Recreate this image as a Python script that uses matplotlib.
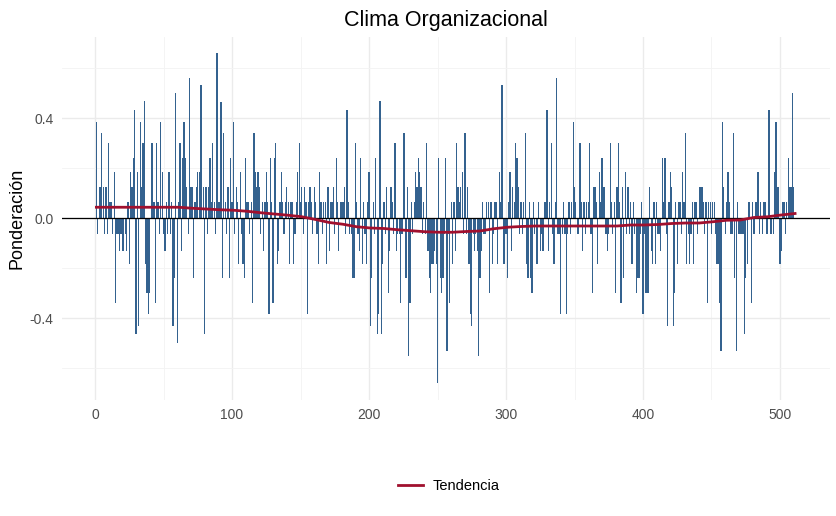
import matplotlib
matplotlib.use("Agg")
import matplotlib.pyplot as plt
import numpy as np

plt.rcParams["font.family"] = ["Liberation Sans", "DejaVu Sans"]

# ponderacion por item (1..510)
ponderacion = [
    0.385, -0.065, 0.125, 0.125, 0.34, 0.125, -0.065, 0.125, -0.065, 0.3,
    0.065, 0.065, -0.065, 0.185, -0.34, -0.065, -0.065, -0.13, -0.065, -0.13,
    -0.13, -0.065, -0.13, 0.065, -0.185, 0.185, 0.125, 0.24, 0.43, -0.465,
    0.185, -0.43, 0.385, 0.125, 0.3, 0.47, -0.185, -0.3, -0.385, -0.3,
    0.3, 0.3, 0.065, -0.34, 0.3, 0.065, -0.065, 0.385, 0.185, -0.065,
    -0.13, 0.065, -0.065, 0.185, -0.065, 0.065, -0.43, -0.24, 0.5, -0.5,
    0.065, 0.3, -0.13, 0.24, 0.385, 0.24, 0.125, -0.065, 0.56, 0.125,
    0.125, -0.24, 0.065, 0.125, 0.185, 0.185, 0.53, 0.53, 0.125, -0.465,
    0.125, -0.065, 0.125, 0.24, 0.065, 0.3, 0.065, -0.065, 0.66, 0.065,
    0.065, 0.465, -0.24, 0.34, 0.065, -0.065, 0.125, -0.24, 0.24, 0.065,
    0.385, -0.065, 0.125, 0.065, -0.185, 0.185, -0.065, -0.185, -0.24, 0.24,
    0.065, 0.065, -0.065, 0.065, -0.34, 0.34, 0.185, 0.125, 0.185, 0.125,
    -0.065, 0.065, -0.13, 0.065, 0.185, 0.065, -0.385, 0.24, 0.065, -0.34,
    0.24, 0.3, -0.185, -0.13, 0.065, 0.185, 0.065, -0.065, 0.065, 0.125,
    0.065, -0.185, 0.065, 0.065, -0.185, -0.065, 0.065, 0.185, 0.3, 0.065,
    0.125, -0.065, 0.125, 0.065, -0.385, 0.065, 0.125, 0.065, -0.065, 0.125,
    0.065, -0.065, -0.185, 0.185, 0.065, -0.065, 0.065, 0.065, -0.185, 0.125,
    -0.13, 0.065, 0.065, 0.125, -0.065, 0.24, 0.065, -0.13, 0.065, 0.065,
    0.065, 0.125, -0.065, 0.43, 0.065, -0.065, -0.065, -0.24, -0.24, 0.3,
    0.065, -0.065, -0.13, 0.24, -0.185, 0.065, -0.065, -0.185, 0.065, 0.185,
    -0.43, -0.24, 0.065, -0.065, 0.24, -0.465, -0.385, 0.47, -0.465, -0.185,
    0.065, -0.065, 0.125, -0.3, -0.13, 0.125, 0.065, -0.065, 0.3, -0.13,
    -0.065, -0.065, -0.34, -0.065, 0.34, 0.34, -0.24, 0.125, -0.55, -0.34,
    0.065, -0.065, 0.065, 0.185, 0.125, 0.24, 0.185, 0.125, -0.065, 0.065,
    -0.065, 0.3, -0.13, -0.24, -0.3, -0.185, -0.185, -0.13, -0.185, -0.66,
    0.24, -0.24, -0.3, -0.24, -0.065, 0.24, -0.53, -0.065, -0.34, 0.065,
    -0.185, 0.065, -0.13, 0.3, 0.125, 0.065, 0.125, 0.185, -0.065, 0.34,
    -0.065, 0.125, -0.185, -0.385, -0.43, -0.065, -0.13, -0.065, -0.13, -0.55,
    -0.24, -0.13, 0.065, -0.065, -0.065, 0.065, 0.065, -0.3, 0.065, -0.185,
    -0.065, 0.065, 0.065, -0.185, 0.185, 0.065, 0.53, -0.185, -0.185, -0.065,
    -0.24, 0.065, 0.185, -0.13, 0.125, 0.065, 0.3, 0.24, 0.125, -0.065,
    0.065, -0.065, 0.065, 0.34, -0.185, -0.24, 0.065, -0.24, -0.3, 0.065,
    -0.065, -0.185, -0.185, 0.065, -0.13, -0.065, -0.13, 0.065, 0.065, 0.43,
    -0.13, 0.065, 0.3, -0.065, -0.185, 0.065, 0.56, -0.065, -0.065, -0.385,
    -0.065, 0.065, -0.065, -0.385, -0.065, 0.065, -0.065, 0.065, 0.385, 0.125,
    0.065, -0.065, -0.065, 0.3, 0.065, -0.13, 0.065, -0.065, 0.065, 0.065,
    0.3, -0.065, -0.3, 0.125, 0.125, 0.065, -0.185, 0.185, 0.065, 0.24,
    0.125, 0.125, -0.065, -0.13, -0.065, 0.3, 0.065, -0.065, 0.065, -0.3,
    0.125, 0.3, 0.065, -0.34, 0.125, -0.24, 0.185, -0.065, 0.125, -0.065,
    0.065, -0.185, 0.065, -0.065, -0.3, -0.24, -0.24, -0.065, 0.065, -0.385,
    -0.065, -0.3, -0.3, -0.3, 0.125, -0.13, -0.185, 0.065, -0.185, 0.065,
    -0.065, -0.065, -0.13, 0.24, 0.065, 0.24, -0.065, -0.43, 0.065, 0.185,
    0.125, -0.43, -0.3, 0.065, -0.185, 0.065, 0.065, -0.065, 0.185, 0.065,
    0.34, -0.185, -0.065, -0.185, -0.065, 0.065, -0.185, 0.065, 0.065, -0.065,
    0.125, 0.125, 0.125, 0.065, -0.065, 0.065, -0.34, 0.065, 0.065, -0.065,
    0.065, 0.065, -0.065, -0.185, -0.185, -0.34, -0.53, 0.385, 0.125, -0.065,
    0.065, 0.185, 0.065, -0.065, -0.065, 0.34, -0.24, -0.53, 0.065, -0.065,
    -0.065, -0.065, -0.065, -0.465, -0.24, -0.185, 0.065, 0.065, -0.34, 0.065,
    -0.065, 0.065, 0.065, 0.185, -0.065, 0.065, -0.065, 0.065, 0.065, -0.065,
    -0.065, 0.43, -0.065, -0.065, -0.065, 0.185, 0.385, 0.125, 0.125, -0.185,
    -0.13, 0.065, 0.065, -0.065, 0.065, 0.24, 0.125, 0.125, 0.5, 0.125,
]
items = np.arange(1, len(ponderacion) + 1)

# tendencia leida cada 10 items
tend_x = list(range(1, 512, 10))
tend_y = [0.043, 0.043, 0.043, 0.043, 0.043, 0.043, 0.043, 0.039, 0.036, 0.033,
          0.031, 0.027, 0.021, 0.016, 0.011, 0.005, -0.006, -0.018, -0.025, -0.035,
          -0.040, -0.042, -0.047, -0.051, -0.055, -0.057, -0.057, -0.054, -0.052, -0.043,
          -0.037, -0.034, -0.032, -0.032, -0.032, -0.032, -0.032, -0.032, -0.032, -0.028,
          -0.028, -0.026, -0.022, -0.020, -0.020, -0.015, -0.009, -0.008, 0.002, 0.005,
          0.012, 0.018]

W, H = 837, 516
fig = plt.figure(figsize=(W / 100, H / 100), dpi=100)
left, right, top, bottom = 62, 830, 37, 400
ax = fig.add_axes([left / W, 1 - bottom / H, (right - left) / W, (bottom - top) / H])

ax.bar(items, ponderacion, width=0.9, color="#34628f", linewidth=0, zorder=2)
ax.axhline(0, color="black", lw=0.9, zorder=3)
ax.plot(tend_x, tend_y, color="#a0102e", lw=2.0, zorder=4, label="Tendencia")

ax.set_xlim(-24.1, 536.5)
ax.set_ylim(-0.728, 0.724)
ax.set_xticks([0, 100, 200, 300, 400, 500])
ax.set_xticks([50, 150, 250, 350, 450], minor=True)
ax.set_yticks([-0.4, 0.0, 0.4])
ax.set_yticklabels(["-0.4", "0.0", "0.4"])
ax.set_yticks([-0.6, -0.2, 0.2, 0.6], minor=True)
ax.grid(which="major", color="#ebebeb", lw=1.0, zorder=0)
ax.grid(which="minor", color="#f3f3f3", lw=0.6, zorder=0)
ax.set_axisbelow(True)
for s in ax.spines.values():
    s.set_visible(False)
ax.tick_params(which="both", length=0, labelsize=10, colors="#4d4d4d", pad=6)

ax.set_ylabel("Ponderación", fontsize=13, labelpad=3)
ax.set_title("Clima Organizacional", fontsize=15.5, pad=8)

fig.legend(loc="center", bbox_to_anchor=(449 / W, 1 - 486 / H), frameon=False,
           fontsize=10.5, handlelength=1.7, handletextpad=0.7)

fig.savefig("out.png", dpi=100, facecolor="white")
